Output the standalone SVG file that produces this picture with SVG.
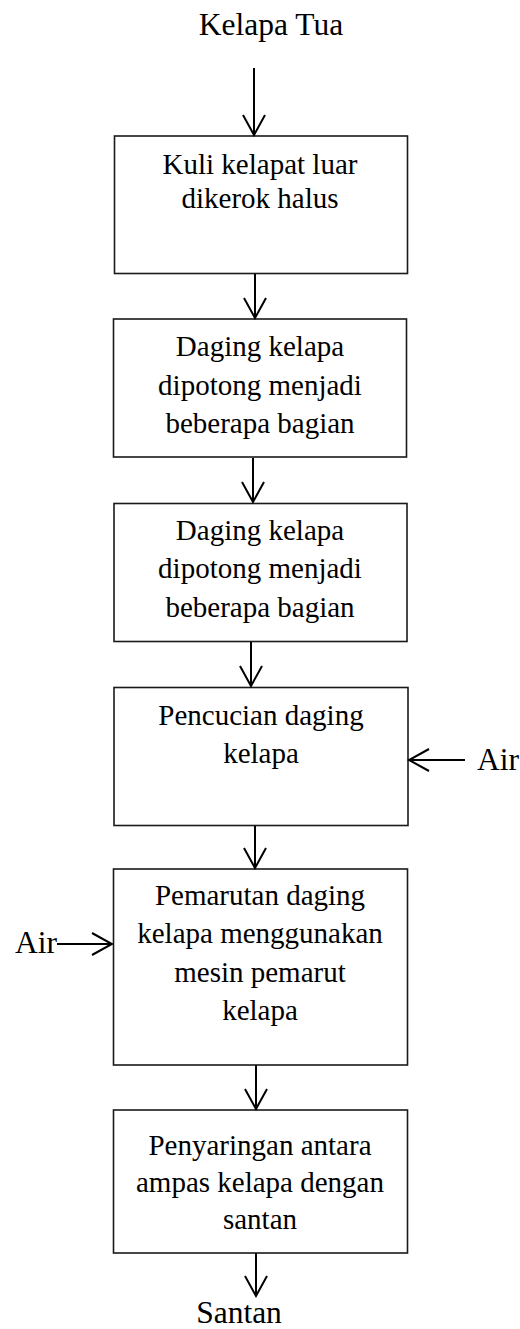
<svg xmlns="http://www.w3.org/2000/svg" width="520" height="1329" viewBox="0 0 520 1329">
<style>
.box{fill:#fff;stroke:#1a1a1a;stroke-width:1.6}
.t{font-family:"Liberation Serif","Times New Roman",serif;font-size:29px;fill:#000;text-anchor:middle}
.tl{font-family:"Liberation Serif","Times New Roman",serif;font-size:31.5px;fill:#000}
.ln{stroke:#000;stroke-width:2;fill:none}
</style>
<defs>
<marker id="ah" viewBox="0 0 24 24" refX="22" refY="12" markerWidth="24" markerHeight="24" markerUnits="userSpaceOnUse" orient="auto">
<path d="M2,1 L22,12 L2,23" fill="none" stroke="#000" stroke-width="2"/>
</marker>
</defs>
<rect width="520" height="1329" fill="#fff"/>
<g id="start"><text class="tl" x="271" y="35" text-anchor="middle">Kelapa Tua</text></g>
<g id="n1"><rect class="box" x="114.5" y="136" width="293" height="137.5"/>
<text class="t" x="260" y="174">Kuli kelapat luar</text>
<text class="t" x="260" y="208">dikerok halus</text></g>
<g id="n2"><rect class="box" x="113.5" y="319" width="293" height="138"/>
<text class="t" x="260" y="356">Daging kelapa</text>
<text class="t" x="260" y="395">dipotong menjadi</text>
<text class="t" x="260" y="433">beberapa bagian</text></g>
<g id="n3"><rect class="box" x="114" y="503.5" width="293" height="138"/>
<text class="t" x="260" y="540">Daging kelapa</text>
<text class="t" x="260" y="578">dipotong menjadi</text>
<text class="t" x="260" y="617">beberapa bagian</text></g>
<g id="n4"><rect class="box" x="114" y="687.5" width="294" height="138"/>
<text class="t" x="261" y="725">Pencucian daging</text>
<text class="t" x="261" y="763">kelapa</text></g>
<g id="n5"><rect class="box" x="113.5" y="869" width="294" height="196"/>
<text class="t" x="260" y="905">Pemarutan daging</text>
<text class="t" x="260" y="943">kelapa menggunakan</text>
<text class="t" x="260" y="982">mesin pemarut</text>
<text class="t" x="260" y="1020">kelapa</text></g>
<g id="n6"><rect class="box" x="113.5" y="1110" width="294" height="143"/>
<text class="t" x="260" y="1155">Penyaringan antara</text>
<text class="t" x="260" y="1192">ampas kelapa dengan</text>
<text class="t" x="260" y="1229">santan</text></g>
<g id="end"><text class="tl" x="239" y="1323" text-anchor="middle">Santan</text></g>
<g id="airR"><text class="tl" x="477" y="770">Air</text></g>
<g id="airL"><text class="tl" x="15" y="953">Air</text></g>
<g id="connectors">
<line class="ln" x1="254" y1="68" x2="254" y2="135" marker-end="url(#ah)"/>
<line class="ln" x1="255" y1="274" x2="255" y2="318" marker-end="url(#ah)"/>
<line class="ln" x1="253" y1="458" x2="253" y2="502" marker-end="url(#ah)"/>
<line class="ln" x1="251" y1="642" x2="251" y2="686" marker-end="url(#ah)"/>
<line class="ln" x1="255" y1="826" x2="255" y2="868" marker-end="url(#ah)"/>
<line class="ln" x1="256" y1="1065" x2="256" y2="1109" marker-end="url(#ah)"/>
<line class="ln" x1="256" y1="1253" x2="256" y2="1296" marker-end="url(#ah)"/>
<line class="ln" x1="465" y1="760" x2="409" y2="760" marker-end="url(#ah)"/>
<line class="ln" x1="57" y1="944" x2="112" y2="944" marker-end="url(#ah)"/>
</g>
</svg>
